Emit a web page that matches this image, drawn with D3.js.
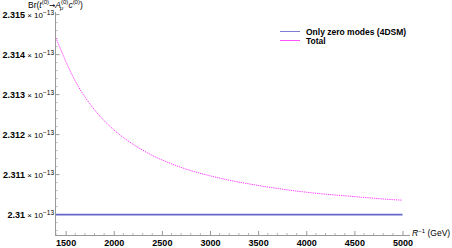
<!DOCTYPE html>
<html>
<head>
<meta charset="utf-8">
<script src="https://cdn.jsdelivr.net/npm/d3@7"></script>
<style>
  body { margin: 0; background: #fff; }
  svg { display: block; font-family: "Liberation Sans", Arial, sans-serif; }
</style>
</head>
<body>
<div id="chart"></div>
<script>
// R^-1 in GeV
const rInv = [1400, 1600, 1800, 2000, 2200, 2400, 2600, 2800, 3000, 3200,
  3400, 3600, 3800, 4000, 4200, 4400, 4600, 4800, 5000];
// Br in units of 1e-13
const total = [2.31441, 2.31334, 2.31262, 2.31212, 2.31176, 2.31148, 2.31127, 2.31110,
  2.31097, 2.31086, 2.31077, 2.31069, 2.31062, 2.31056, 2.31051, 2.31047, 2.31043, 2.31039, 2.31036];
const zeroModes = [2.31, 2.31];
const zeroModesX = [1400, 5000];
const xTicks = [1500, 2000, 2500, 3000, 3500, 4000, 4500, 5000];
const yTicks = ["2.31", "2.311", "2.312", "2.313", "2.314", "2.315"];
const legendLabels = ["Only zero modes (4DSM)", "Total"];
const legendColors = ['#6666cc', '#ff33ff'];

const width = 452, height = 248;
const svg = d3.select('#chart').append('svg')
  .attr('width', width)
  .attr('height', height);

const x = d3.scaleLinear().domain([1400, 5000]).range([56, 402.5]);
const y = d3.scaleLinear().domain([2.30949, 2.31504]).range([235, 13]);

const axisColor = '#9a9a9a';

// x axis
const xAxis = svg.append('g')
  .attr('transform', 'translate(0,235)')
  .call(d3.axisBottom(x).tickValues(xTicks).tickFormat(d3.format('d'))
    .tickSize(-4).tickSizeOuter(0).tickPadding(6));
xAxis.select('.domain').remove();
xAxis.selectAll('line').attr('stroke', axisColor);
xAxis.selectAll('text')
  .attr('font-size', 9)
  .attr('font-weight', 'bold')
  .attr('fill', '#000')
  .attr('dy', '0.6em');
// minor x ticks
svg.append('g').selectAll('line')
  .data(d3.range(1400, 5001, 100).filter(d => d % 500 !== 0))
  .enter().append('line')
  .attr('x1', d => x(d)).attr('x2', d => x(d))
  .attr('y1', 235).attr('y2', 233)
  .attr('stroke', axisColor).attr('stroke-width', 0.7);
svg.append('line')
  .attr('x1', 56).attr('x2', 410)
  .attr('y1', 235.5).attr('y2', 235.5)
  .attr('stroke', axisColor);

// y axis
svg.append('line')
  .attr('x1', 55.5).attr('x2', 55.5)
  .attr('y1', 12).attr('y2', 236)
  .attr('stroke', axisColor);
const minorY = d3.range(2.3096, 2.31501, 0.0002).filter(d => Math.abs(Math.round(d * 1000) - d * 1000) > 1e-6);
svg.append('g').selectAll('line')
  .data(minorY)
  .enter().append('line')
  .attr('x1', 55.5).attr('x2', 57.5)
  .attr('y1', d => y(d)).attr('y2', d => y(d))
  .attr('stroke', axisColor).attr('stroke-width', 0.7);
const yt = svg.append('g').selectAll('g')
  .data(yTicks)
  .enter().append('g')
  .attr('transform', d => 'translate(0,' + y(+d) + ')');
yt.append('line')
  .attr('x1', 55.5).attr('x2', 59.5)
  .attr('stroke', axisColor);
const ylab = yt.append('text')
  .attr('x', 54)
  .attr('y', 3.5)
  .attr('text-anchor', 'end')
  .attr('font-size', 9);
ylab.append('tspan').attr('font-weight', 'bold').text(d => d);
ylab.append('tspan').attr('font-size', 8).text(' × 10');
ylab.append('tspan').attr('font-size', 6.5).attr('dy', -3.5).text('−13');

// lines
const line = d3.line().x(d => x(d[0])).y(d => y(d[1]));
svg.append('path')
  .datum(zeroModesX.map((d, i) => [d, zeroModes[i]]))
  .attr('d', line)
  .attr('fill', 'none')
  .attr('stroke', legendColors[0])
  .attr('stroke-width', 1.6);
svg.append('path')
  .datum(rInv.map((d, i) => [d, total[i]]))
  .attr('d', line.curve(d3.curveMonotoneX))
  .attr('fill', 'none')
  .attr('stroke', legendColors[1])
  .attr('stroke-width', 1)
  .attr('stroke-dasharray', '1.2,1');

// piecewise text: each piece measured and placed after the previous one
function richText(g, x0, y0, pieces) {
  let cx = x0;
  pieces.forEach(p => {
    const t = g.append('text')
      .attr('x', p.back ? cx - p.back : cx)
      .attr('y', y0 + (p.dy || 0))
      .attr('font-size', p.size || 8.5)
      .attr('font-style', p.italic ? 'italic' : null)
      .attr('font-family', p.font || null)
      .text(p.t);
    const w = t.node().getComputedTextLength();
    if (!p.back) cx += w + (p.gap || 0);
  });
}

const title = svg.append('g');
richText(title, 28, 7.5, [
  { t: 'Br(' },
  { t: 't', italic: true },
  { t: '(0)', size: 6, dy: -3.5 },
  { t: '→', size: 7.5, font: 'DejaVu Sans' },
  { t: 'A', italic: true },
  { t: '(0)', size: 6, dy: -3.5 },
  { t: 'μ', size: 6, dy: 2.5, italic: true, back: 8.5 },
  { t: 'c', italic: true },
  { t: '(0)', size: 6, dy: -3.5 },
  { t: ')' }
]);

const xl = svg.append('g');
richText(xl, 412, 236, [
  { t: 'R', italic: true },
  { t: '−1', size: 6, dy: -3.5, gap: 2.5 },
  { t: '(GeV)' }
]);

// legend
const legendItems = legendLabels.map((label, i) => ({ label: label, color: legendColors[i] }));
const lg = svg.append('g').selectAll('g')
  .data(legendItems)
  .enter().append('g')
  .attr('transform', (d, i) => 'translate(280,' + (31 + i * 9) + ')');
lg.append('rect')
  .attr('x', 0).attr('y', 0)
  .attr('width', 20).attr('height', 1)
  .attr('fill', d => d.color)
  .attr('fill-opacity', 0.85);
lg.append('text')
  .attr('x', 26).attr('y', 3.5)
  .attr('font-size', 8.5)
  .attr('font-weight', 'bold')
  .text(d => d.label);
</script>
</body>
</html>
